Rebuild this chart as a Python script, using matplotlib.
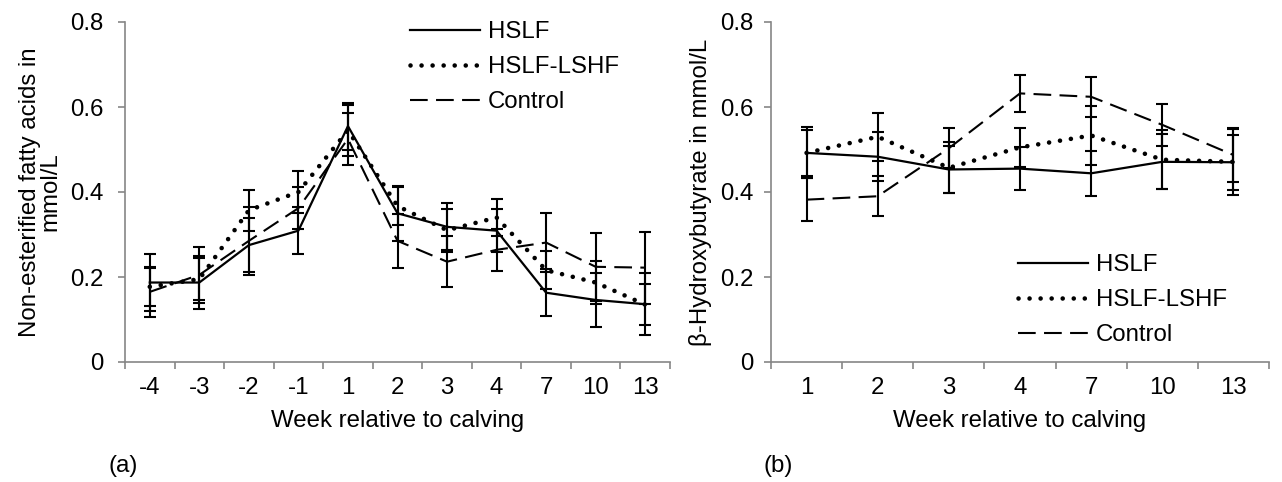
import numpy as np
import matplotlib
matplotlib.use("Agg")
import matplotlib.pyplot as plt

plt.rcParams['font.family'] = ['Liberation Sans', 'DejaVu Sans']
plt.rcParams['font.size'] = 17.3

# données
semaines_a = ['-4', '-3', '-2', '-1', '1', '2', '3', '4', '7', '10', '13']
hslf_a = [0.187, 0.187, 0.275, 0.309, 0.555, 0.350, 0.318, 0.309, 0.163, 0.146, 0.136]
hslf_a_err = [0.066, 0.063, 0.064, 0.055, 0.055, 0.065, 0.055, 0.050, 0.055, 0.063, 0.073]
lshf_a = [0.177, 0.195, 0.357, 0.400, 0.545, 0.367, 0.310, 0.340, 0.216, 0.187, 0.135]
lshf_a_err = [0.045, 0.050, 0.048, 0.050, 0.060, 0.045, 0.050, 0.044, 0.045, 0.050, 0.048]
ctrl_a = [0.165, 0.205, 0.285, 0.362, 0.525, 0.285, 0.236, 0.264, 0.281, 0.224, 0.222]
ctrl_a_err = [0.058, 0.066, 0.080, 0.049, 0.062, 0.063, 0.060, 0.050, 0.070, 0.080, 0.085]

semaines_b = ['1', '2', '3', '4', '7', '10', '13']
hslf_b = [0.492, 0.483, 0.453, 0.455, 0.444, 0.471, 0.470]
hslf_b_err = [0.060, 0.058, 0.055, 0.050, 0.053, 0.065, 0.065]
lshf_b = [0.492, 0.530, 0.457, 0.505, 0.533, 0.476, 0.471]
lshf_b_err = [0.055, 0.057, 0.060, 0.045, 0.070, 0.070, 0.077]
ctrl_b = [0.382, 0.390, 0.503, 0.632, 0.624, 0.558, 0.487]
ctrl_b_err = [0.050, 0.047, 0.047, 0.043, 0.047, 0.050, 0.063]

y_ticks = [0, 0.2, 0.4, 0.6, 0.8]
y_labels = ['0', '0.2', '0.4', '0.6', '0.8']
noms = ['HSLF', 'HSLF-LSHF', 'Control']

gris = '#868686'
styles = [
    dict(linestyle='-', linewidth=1.6),
    dict(linestyle=(0, (0.01, 2.4)), linewidth=3.3, dash_capstyle='round'),
    dict(linestyle=(0, (8.5, 4.0)), linewidth=1.5),
]


def tracer_panneau(ax, semaines, series, erreurs, pad_y):
    x = np.arange(len(semaines))
    for vals, errs, st, nom in zip(series, erreurs, styles, noms):
        ax.errorbar(x, vals, yerr=errs, fmt='none', ecolor='black',
                    elinewidth=1.5, capsize=4.3, capthick=1.5)
        ax.plot(x, vals, color='black', label=nom, **st)

    ax.set_xlim(-0.5, len(semaines) - 0.5)
    ax.set_ylim(0, 0.8)
    ax.set_xticks(x)
    ax.set_xticklabels(semaines)
    ax.set_xticks(np.arange(len(semaines) + 1) - 0.5, minor=True)
    ax.tick_params(axis='x', which='major', length=0, pad=11)
    ax.tick_params(axis='x', which='minor', length=5, width=1.2,
                   color=gris, direction='out')
    ax.set_yticks(y_ticks)
    ax.set_yticklabels(y_labels)
    ax.tick_params(axis='y', length=5, width=1.2, color=gris,
                   direction='out', pad=pad_y)
    for cote in ['top', 'right']:
        ax.spines[cote].set_visible(False)
    for cote in ['left', 'bottom']:
        ax.spines[cote].set_color(gris)
        ax.spines[cote].set_linewidth(1.2)
    ax.set_xlabel('Week relative to calving', labelpad=8)


fig = plt.figure(figsize=(12.82, 4.82), dpi=100)
ax1 = fig.add_axes([125 / 1282, 120 / 482, 545 / 1282, 340 / 482])
ax2 = fig.add_axes([771 / 1282, 120 / 482, 498 / 1282, 340 / 482])

tracer_panneau(ax1, semaines_a, [hslf_a, lshf_a, ctrl_a], [hslf_a_err, lshf_a_err, ctrl_a_err], 10.5)
tracer_panneau(ax2, semaines_b, [hslf_b, lshf_b, ctrl_b], [hslf_b_err, lshf_b_err, ctrl_b_err], 7.5)

ax1.set_ylabel('Non-esterified fatty acids in\nmmol/L', labelpad=6, linespacing=0.9)
ax2.set_ylabel('β-Hydroxybutyrate in mmol/L', labelpad=6)

leg_kw = dict(frameon=False, handlelength=2.9, handletextpad=0.35,
              labelspacing=0.55, borderpad=0, borderaxespad=0, loc='upper left')
ax1.legend(bbox_to_anchor=(410 / 1282, 1 - 21 / 482), bbox_transform=fig.transFigure, **leg_kw)
ax2.legend(bbox_to_anchor=(1018 / 1282, 1 - 254 / 482), bbox_transform=fig.transFigure, **leg_kw)

fig.text(123 / 1282, 1 - 466 / 482, '(a)', ha='center', va='center')
fig.text(778 / 1282, 1 - 466 / 482, '(b)', ha='center', va='center')

fig.savefig('out.png', dpi=100)
plt.close(fig)
